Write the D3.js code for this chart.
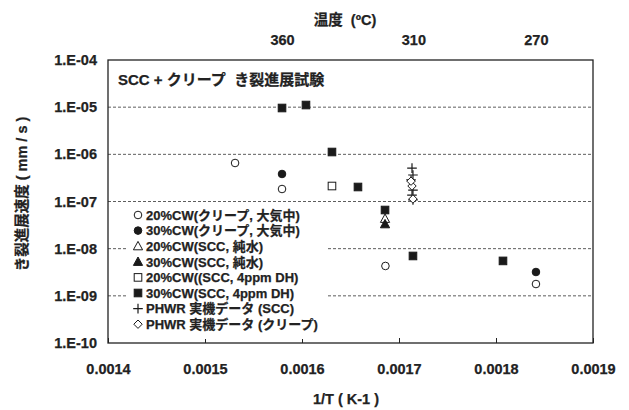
<!DOCTYPE html>
<html><head><meta charset="utf-8">
<script src="https://cdn.jsdelivr.net/npm/d3@7"></script>
<style>
body{margin:0;background:#fff;}
text{font-family:"Liberation Sans",Arial,"Noto Sans CJK JP",sans-serif;font-weight:bold;fill:#222;stroke:#222;stroke-width:0.25;}
</style></head><body>
<svg id="c" width="629" height="410"></svg>
<script>
// ---- data ----
const xTicks = [0.0014, 0.0015, 0.0016, 0.0017, 0.0018, 0.0019];
const yTicks = [1e-4, 1e-5, 1e-6, 1e-7, 1e-8, 1e-9, 1e-10];
const yTickLabels = ["1.E-04","1.E-05","1.E-06","1.E-07","1.E-08","1.E-09","1.E-10"];
const tempTicks = [360, 310, 270];

const creep20 = [[0.001531, 6.55e-7],[0.0015794, 1.84e-7],[0.001686, 4.3e-9],[0.0018412, 1.78e-9]];
const creep30 = [[0.0015794, 3.83e-7],[0.0018412, 3.2e-9]];
const scc20water = [[0.0016856, 4.3e-8]];
const scc30water = [[0.0016856, 3.3e-8]];
const scc20dh = [[0.0016309, 2.13e-7]];
const scc30dh = [[0.0015794, 9.6e-6],[0.0016041, 1.11e-5],[0.0016309, 1.12e-6],[0.0016577, 2.03e-7],[0.0016856, 6.6e-8],[0.0017144, 7.0e-9],[0.0018072, 5.5e-9]];
const phwrScc = [[0.0017134, 5.1e-7],[0.0017144, 3.65e-7],[0.0017124, 2.86e-7],[0.0017144, 1.75e-7],[0.0017134, 1.37e-7],[0.0017144, 1.08e-7]];
const phwrCreep = [[0.0017134, 2.13e-7],[0.0017144, 1.13e-7],[0.0017124, 2.7e-7]];

const seriesNames = ["20%CW(クリープ, 大気中)","30%CW(クリープ, 大気中)","20%CW(SCC, 純水)","30%CW(SCC, 純水)","20%CW((SCC, 4ppm DH)","30%CW(SCC, 4ppm DH)","PHWR 実機データ (SCC)","PHWR 実機データ (クリープ)"];
const seriesData = [creep20, creep30, scc20water, scc30water, scc20dh, scc30dh, phwrScc, phwrCreep];
const seriesShape = ["circle","circle","triangle","triangle","square","square","plus","diamond"];
const seriesFilled = [false,true,false,true,false,true,false,false];

// ---- layout ----
const L = 108, R = 593, T = 60, B = 343;
const svg = d3.select("#c");
const x = d3.scaleLinear().domain([0.0014, 0.0019]).range([L, R]);
const y = d3.scaleLog().domain([1e-10, 1e-4]).range([B, T]);

// gridlines
svg.append("g").selectAll("line").data(yTicks.slice(1, -1)).join("line")
  .attr("x1", L).attr("x2", R).attr("y1", d => y(d)).attr("y2", d => y(d))
  .attr("stroke", "#333").attr("stroke-width", 0.8).attr("stroke-dasharray", "3,2");

// frame
svg.append("rect").attr("x", L).attr("y", T).attr("width", R - L).attr("height", B - T)
  .attr("fill", "none").attr("stroke", "#222").attr("stroke-width", 1.3);

const tickFont = "14.5px";
// bottom axis (inner ticks)
const xa = svg.append("g").attr("transform", `translate(0,${B})`)
  .call(d3.axisBottom(x).tickValues(xTicks).tickSize(-5).tickFormat(d3.format(".4f")).tickPadding(14));
xa.select(".domain").remove();
xa.selectAll("line").attr("stroke", "#222");
xa.selectAll("text").style("font-size", tickFont).attr("fill", "#222").attr("y", 21).attr("dy", "0.71em");

// left axis
const ya = svg.append("g").attr("transform", `translate(${L},0)`)
  .call(d3.axisLeft(y).tickValues(yTicks).tickSize(0).tickPadding(11).tickFormat((d, i) => yTickLabels[i]));
ya.select(".domain").remove();
ya.selectAll("text").style("font-size", tickFont).attr("fill", "#222");

// top temperature axis
const ta = svg.append("g").attr("transform", `translate(0,${T})`)
  .call(d3.axisTop(x).tickValues(tempTicks.map(t => 1 / (t + 273.15))).tickSize(0).tickPadding(15)
    .tickFormat((d, i) => tempTicks[i]));
ta.select(".domain").remove();
ta.selectAll("text").style("font-size", tickFont).attr("fill", "#222");

// axis titles
svg.append("text").attr("x", 345).attr("y", 25).attr("text-anchor", "middle").style("font-size", "14.5px").attr("xml:space", "preserve").text("温度  (ºC)");
svg.append("text").attr("x", 346).attr("y", 404).attr("text-anchor", "middle").style("font-size", "14.5px").text("1/T ( K-1 )");
svg.append("text").attr("transform", "translate(27,194) rotate(-90)").attr("text-anchor", "middle").style("font-size", "14.5px").text("き裂進展速度 ( mm / s )");

// in-plot title
svg.append("text").attr("x", 118).attr("y", 85).style("font-size", "15px").attr("xml:space", "preserve").text("SCC + クリープ  き裂進展試験");

// marker drawing
function marker(g, shape, filled, cx, cy) {
  const fill = filled ? "#1a1a1a" : "#fff";
  const st = "#1a1a1a";
  if (shape === "circle") g.append("circle").attr("cx", cx).attr("cy", cy).attr("r", 3.8).attr("fill", fill).attr("stroke", st).attr("stroke-width", 1);
  else if (shape === "square") g.append("rect").attr("x", cx - 3.8).attr("y", cy - 3.8).attr("width", 7.6).attr("height", 7.6).attr("fill", fill).attr("stroke", st).attr("stroke-width", 1);
  else if (shape === "triangle") g.append("path").attr("d", `M${cx},${cy - 4.8}L${cx + 4.6},${cy + 3.6}L${cx - 4.6},${cy + 3.6}Z`).attr("fill", fill).attr("stroke", st).attr("stroke-width", 1);
  else if (shape === "diamond") g.append("path").attr("d", `M${cx},${cy - 4.2}L${cx + 4.2},${cy}L${cx},${cy + 4.2}L${cx - 4.2},${cy}Z`).attr("fill", fill).attr("stroke", st).attr("stroke-width", 1);
  else if (shape === "plus") g.append("path").attr("d", `M${cx - 4.8},${cy}H${cx + 4.8}M${cx},${cy - 4.8}V${cy + 4.8}`).attr("stroke", st).attr("stroke-width", 1.2).attr("fill", "none");
}

// points
const pg = svg.append("g");
seriesData.forEach((data, i) => {
  data.forEach(p => marker(pg, seriesShape[i], seriesFilled[i], x(p[0]), y(p[1])));
});

// legend
const lg = svg.append("g");
lg.append("rect").attr("x", 126).attr("y", 206).attr("width", 201).attr("height", 133).attr("fill", "#fff");
seriesNames.forEach((name, i) => {
  const cy = 215 + i * 15.6;
  marker(lg, seriesShape[i], seriesFilled[i], 138, cy);
  lg.append("text").attr("x", 146).attr("y", cy + 4.8).style("font-size", "13px").text(name);
});
</script>
</body></html>
